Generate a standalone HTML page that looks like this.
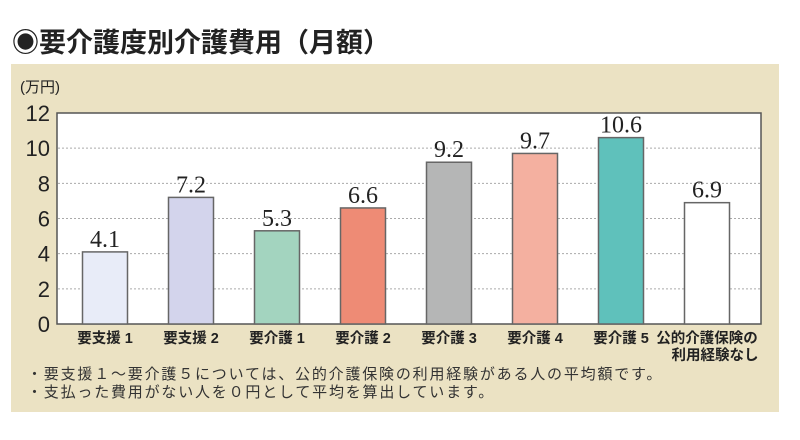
<!DOCTYPE html>
<html><head><meta charset="utf-8">
<style>
body{margin:0;background:#fff;width:800px;height:435px;overflow:hidden;font-family:"Liberation Sans","Noto Sans CJK JP",sans-serif;}
</style></head>
<body>
<svg width="800" height="435" xmlns="http://www.w3.org/2000/svg">
<text x="12" y="52" font-size="27" font-weight="bold" fill="#222" font-family="Liberation Sans,Noto Sans CJK JP,sans-serif">◉要介護度別介護費用（月額）</text>
<rect x="11" y="64" width="768" height="348" fill="#ebe2c3"/>
<text x="20" y="92" font-size="15" fill="#222" font-family="Liberation Sans,Noto Sans CJK JP,sans-serif">(万円)</text>
<rect x="57" y="113" width="704" height="211" fill="#fff" stroke="#555" stroke-width="1.5"/>
<g id="grid"></g>
<g id="yticks"></g>
<g id="bars"></g>
<g id="xlabels"></g>
<text x="27" y="379" font-size="15" letter-spacing="1.8" fill="#333" font-family="Liberation Sans,Noto Sans CJK JP,sans-serif">・要支援１～要介護５については、公的介護保険の利用経験がある人の平均額です。</text>
<text x="27" y="397" font-size="15" letter-spacing="1.8" fill="#333" font-family="Liberation Sans,Noto Sans CJK JP,sans-serif">・支払った費用がない人を０円として平均を算出しています。</text>
</svg>
<script>
const categories=["要支援 1","要支援 2","要介護 1","要介護 2","要介護 3","要介護 4","要介護 5","公的介護保険の|利用経験なし"];
const values=[4.1,7.2,5.3,6.6,9.2,9.7,10.6,6.9];
const valueLabels=["4.1","7.2","5.3","6.6","9.2","9.7","10.6","6.9"];
const yTicks=[0,2,4,6,8,10,12];
const colors=["#e8ecf8","#d3d4ec","#a3d4bf","#ee8b75","#b5b6b6","#f4b0a0","#5fc1bb","#ffffff"];
const NS="http://www.w3.org/2000/svg";
const y0=324,y1=113,yMax=12;
function yScale(v){return y0-(v/yMax)*(y0-y1);}
function xCenter(i){return 105+i*86;}
const bw=45;
function mk(tag,attrs,parent,text){const e=document.createElementNS(NS,tag);for(const k in attrs)e.setAttribute(k,attrs[k]);if(text!==undefined)e.textContent=text;document.getElementById(parent).appendChild(e);return e;}
yTicks.forEach(t=>{
  if(t>0&&t<12){const l=mk('line',{x1:58,x2:760,y1:yScale(t),y2:yScale(t),stroke:'#aaa','stroke-dasharray':'2,2'},'grid');
  
  }
  const tx=mk('text',{x:50,y:yScale(t)+8,'text-anchor':'end','font-size':22,fill:'#222'},'yticks',String(t));
  
  
});
values.forEach((v,i)=>{
  const r=mk('rect',{x:xCenter(i)-bw/2,y:yScale(v),width:bw,height:y0-yScale(v),fill:colors[i],stroke:'#666','stroke-width':1.5},'bars');
  
  
  const t=mk('text',{x:xCenter(i),y:yScale(v)-5,'text-anchor':'middle','font-size':24,fill:'#222','font-family':'Liberation Serif,serif'},'bars',valueLabels[i]);
  
  
});
categories.forEach((c,i)=>{
  const parts=c.split('|');
  parts.forEach((p,j)=>{
    const t=mk('text',{x:xCenter(i)+(j>0?8:0),y:343+j*17,'text-anchor':'middle','font-size':14.5,'font-weight':'bold',fill:'#222'},'xlabels',p);
    
    
  });
});
</script>
</body></html>
